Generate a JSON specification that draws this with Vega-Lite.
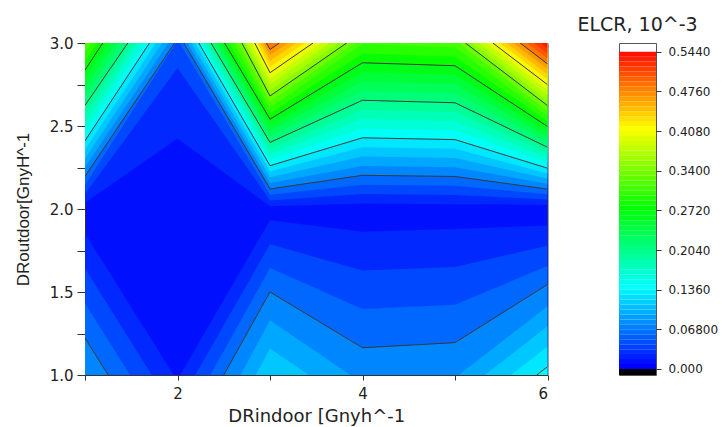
{
  "$schema": "https://vega.github.io/schema/vega-lite/v6.json",
  "background": "white",
  "padding": {"left": 14, "top": 15, "right": 0, "bottom": 0},
  "config": {"view": {"stroke": null}, "font": "DejaVu Sans"},
  "datasets": {
    "iso": [
      {"id": "u1", "k": 1, "e": 3, "x": [1, 2, 3, 4, 5, 6], "y": [2.038, 2.425, 2.016, 2.033, 2.029, 2.026]},
      {"id": "l1a", "k": 1, "e": 1, "x": [1, 1.958], "y": [1.852, 1]},
      {"id": "l1b", "k": 1, "e": 1, "x": [2.029, 3, 4, 5, 6], "y": [1, 1.932, 1.863, 1.879, 1.9]},
      {"id": "u2", "k": 2, "e": 3, "x": [1, 2, 3, 4, 5, 6], "y": [2.091, 2.85, 2.051, 2.09, 2.085, 2.057]},
      {"id": "l2a", "k": 2, "e": 1, "x": [1, 1.722], "y": [1.642, 1]},
      {"id": "l2b", "k": 2, "e": 1, "x": [2.192, 3, 4, 5, 6], "y": [1, 1.788, 1.63, 1.651, 1.779]},
      {"id": "u3a", "k": 3, "e": 3, "x": [1, 1.984], "y": [2.144, 3]},
      {"id": "u3b", "k": 3, "e": 3, "x": [2.024, 3, 4, 5, 6], "y": [3, 2.086, 2.146, 2.14, 2.089]},
      {"id": "l3a", "k": 3, "e": 1, "x": [1, 1.486], "y": [1.432, 1]},
      {"id": "l3b", "k": 3, "e": 1, "x": [2.356, 3, 4, 5, 6], "y": [1, 1.644, 1.397, 1.423, 1.657]},
      {"id": "u4a", "k": 4, "e": 3, "x": [1, 1.968], "y": [2.197, 3]},
      {"id": "u4b", "k": 4, "e": 3, "x": [2.068, 3, 4, 5, 6], "y": [3, 2.121, 2.203, 2.196, 2.12]},
      {"id": "l4a", "k": 4, "e": 1, "x": [1, 1.25], "y": [1.222, 1]},
      {"id": "l4b", "k": 4, "e": 1, "x": [2.5, 3, 4, 5, 6], "y": [1, 1.5, 1.164, 1.195, 1.545]},
      {"id": "u5a", "k": 5, "e": 3, "x": [1, 1.9], "y": [2.251, 3]},
      {"id": "u5b", "k": 5, "e": 3, "x": [2.109, 3, 4, 5, 6], "y": [3, 2.156, 2.259, 2.251, 2.152]},
      {"id": "l5a", "k": 5, "e": 1, "x": [2.683, 3, 3.868], "y": [1, 1.33, 1]},
      {"id": "l5b", "k": 5, "e": 1, "x": [5.041, 6], "y": [1, 1.414]},
      {"id": "u6a", "k": 6, "e": 3, "x": [1, 1.832], "y": [2.304, 3]},
      {"id": "u6b", "k": 6, "e": 3, "x": [2.149, 3, 4, 5, 6], "y": [3, 2.191, 2.316, 2.307, 2.183]},
      {"id": "l6a", "k": 6, "e": 1, "x": [2.846, 3, 3.421], "y": [1, 1.16, 1]},
      {"id": "l6b", "k": 6, "e": 1, "x": [5.322, 6], "y": [1, 1.293]},
      {"id": "u7a", "k": 7, "e": 3, "x": [1, 1.765], "y": [2.357, 3]},
      {"id": "u7b", "k": 7, "e": 3, "x": [2.19, 3, 4, 5, 6], "y": [3, 2.226, 2.372, 2.363, 2.214]},
      {"id": "l7b", "k": 7, "e": 1, "x": [5.603, 6], "y": [1, 1.171]},
      {"id": "u8a", "k": 8, "e": 3, "x": [1, 1.697], "y": [2.411, 3]},
      {"id": "u8b", "k": 8, "e": 3, "x": [2.23, 3, 4, 5, 6], "y": [3, 2.261, 2.429, 2.418, 2.246]},
      {"id": "l8b", "k": 8, "e": 1, "x": [5.884, 6], "y": [1, 1.05]},
      {"id": "u9a", "k": 9, "e": 3, "x": [1, 1.639], "y": [2.464, 3]},
      {"id": "u9b", "k": 9, "e": 3, "x": [2.262, 3, 4, 5, 6], "y": [3, 2.296, 2.485, 2.474, 2.277]},
      {"id": "u10a", "k": 10, "e": 3, "x": [1, 1.58], "y": [2.517, 3]},
      {"id": "u10b", "k": 10, "e": 3, "x": [2.294, 3, 4, 5, 6], "y": [3, 2.331, 2.542, 2.529, 2.309]},
      {"id": "u11a", "k": 11, "e": 3, "x": [1, 1.522], "y": [2.571, 3]},
      {"id": "u11b", "k": 11, "e": 3, "x": [2.328, 3, 4, 5, 6], "y": [3, 2.366, 2.598, 2.585, 2.34]},
      {"id": "u12a", "k": 12, "e": 3, "x": [1, 1.463], "y": [2.624, 3]},
      {"id": "u12b", "k": 12, "e": 3, "x": [2.362, 3, 4, 5, 6], "y": [3, 2.401, 2.655, 2.64, 2.372]},
      {"id": "u13a", "k": 13, "e": 3, "x": [1, 1.395], "y": [2.677, 3]},
      {"id": "u13b", "k": 13, "e": 3, "x": [2.398, 3, 4, 5, 6], "y": [3, 2.436, 2.711, 2.696, 2.403]},
      {"id": "u14a", "k": 14, "e": 3, "x": [1, 1.327], "y": [2.73, 3]},
      {"id": "u14b", "k": 14, "e": 3, "x": [2.435, 3, 4, 5, 6], "y": [3, 2.471, 2.768, 2.752, 2.434]},
      {"id": "u15a", "k": 15, "e": 3, "x": [1, 1.26], "y": [2.784, 3]},
      {"id": "u15b", "k": 15, "e": 3, "x": [2.472, 3, 4, 5, 6], "y": [3, 2.506, 2.824, 2.807, 2.466]},
      {"id": "u16a", "k": 16, "e": 3, "x": [1, 1.192], "y": [2.837, 3]},
      {"id": "u16b", "k": 16, "e": 3, "x": [2.509, 3, 4, 5, 6], "y": [3, 2.541, 2.881, 2.863, 2.497]},
      {"id": "u17a", "k": 17, "e": 3, "x": [1, 1.132], "y": [2.89, 3]},
      {"id": "u17b", "k": 17, "e": 3, "x": [2.556, 3, 4, 5, 6], "y": [3, 2.576, 2.937, 2.918, 2.529]},
      {"id": "u18a", "k": 18, "e": 3, "x": [1, 1.072], "y": [2.944, 3]},
      {"id": "u18b", "k": 18, "e": 3, "x": [2.603, 3, 4, 5, 6], "y": [3, 2.611, 2.994, 2.974, 2.56]},
      {"id": "u19b", "k": 19, "e": 3, "x": [2.649, 3, 3.92], "y": [3, 2.646, 3]},
      {"id": "u19c", "k": 19, "e": 3, "x": [5.039, 6], "y": [3, 2.591]},
      {"id": "u20b", "k": 20, "e": 3, "x": [2.696, 3, 3.829], "y": [3, 2.681, 3]},
      {"id": "u20c", "k": 20, "e": 3, "x": [5.113, 6], "y": [3, 2.623]},
      {"id": "u21b", "k": 21, "e": 3, "x": [2.729, 3, 3.738], "y": [3, 2.716, 3]},
      {"id": "u21c", "k": 21, "e": 3, "x": [5.187, 6], "y": [3, 2.654]},
      {"id": "u22b", "k": 22, "e": 3, "x": [2.762, 3, 3.647], "y": [3, 2.751, 3]},
      {"id": "u22c", "k": 22, "e": 3, "x": [5.261, 6], "y": [3, 2.686]},
      {"id": "u23b", "k": 23, "e": 3, "x": [2.797, 3, 3.556], "y": [3, 2.786, 3]},
      {"id": "u23c", "k": 23, "e": 3, "x": [5.335, 6], "y": [3, 2.717]},
      {"id": "u24b", "k": 24, "e": 3, "x": [2.835, 3, 3.465], "y": [3, 2.821, 3]},
      {"id": "u24c", "k": 24, "e": 3, "x": [5.409, 6], "y": [3, 2.749]},
      {"id": "u25b", "k": 25, "e": 3, "x": [2.866, 3, 3.374], "y": [3, 2.856, 3]},
      {"id": "u25c", "k": 25, "e": 3, "x": [5.483, 6], "y": [3, 2.78]},
      {"id": "u26b", "k": 26, "e": 3, "x": [2.897, 3, 3.283], "y": [3, 2.891, 3]},
      {"id": "u26c", "k": 26, "e": 3, "x": [5.557, 6], "y": [3, 2.811]},
      {"id": "u27b", "k": 27, "e": 3, "x": [2.928, 3, 3.193], "y": [3, 2.926, 3]},
      {"id": "u27c", "k": 27, "e": 3, "x": [5.63, 6], "y": [3, 2.843]},
      {"id": "u28b", "k": 28, "e": 3, "x": [2.962, 3, 3.102], "y": [3, 2.961, 3]},
      {"id": "u28c", "k": 28, "e": 3, "x": [5.704, 6], "y": [3, 2.874]},
      {"id": "u29b", "k": 29, "e": 3, "x": [2.995, 3, 3.011], "y": [3, 2.996, 3]},
      {"id": "u29c", "k": 29, "e": 3, "x": [5.778, 6], "y": [3, 2.906]},
      {"id": "u30c", "k": 30, "e": 3, "x": [5.852, 6], "y": [3, 2.937]},
      {"id": "u31c", "k": 31, "e": 3, "x": [5.926, 6], "y": [3, 2.969]}
    ],
    "bar": [
      {"a": [0, 0.0085, 0.017, 0.0255, 0.034, 0.0425, 0.051, 0.0595, 0.068, 0.0765, 0.085, 0.0935, 0.102, 0.1105, 0.119, 0.1275, 0.136, 0.1445, 0.153, 0.1615, 0.17, 0.1785, 0.187, 0.1955, 0.204, 0.2125, 0.221, 0.2295, 0.238, 0.2465, 0.255, 0.2635, 0.272, 0.2805, 0.289, 0.2975, 0.306, 0.3145, 0.323, 0.3315, 0.34, 0.3485, 0.357, 0.3655, 0.374, 0.3825, 0.391, 0.3995, 0.408, 0.4165, 0.425, 0.4335, 0.442, 0.4505, 0.459, 0.4675, 0.476, 0.4845, 0.493, 0.5015, 0.51, 0.5185, 0.527, 0.5355],
       "b": [0.0085, 0.017, 0.0255, 0.034, 0.0425, 0.051, 0.0595, 0.068, 0.0765, 0.085, 0.0935, 0.102, 0.1105, 0.119, 0.1275, 0.136, 0.1445, 0.153, 0.1615, 0.17, 0.1785, 0.187, 0.1955, 0.204, 0.2125, 0.221, 0.2295, 0.238, 0.2465, 0.255, 0.2635, 0.272, 0.2805, 0.289, 0.2975, 0.306, 0.3145, 0.323, 0.3315, 0.34, 0.3485, 0.357, 0.3655, 0.374, 0.3825, 0.391, 0.3995, 0.408, 0.4165, 0.425, 0.4335, 0.442, 0.4505, 0.459, 0.4675, 0.476, 0.4845, 0.493, 0.5015, 0.51, 0.5185, 0.527, 0.5355, 0.544]}
    ],
    "cap": [{"lo": -0.0103, "hi": 0}]
  },
  "spacing": 27,
  "resolve": {"scale": {"color": "independent"}},
  "hconcat": [
    {
      "width": 462.5,
      "height": 332,
      "view": {"fill": "#0010ff", "stroke": "#444", "strokeWidth": 1},
      "layer": [
        {
          "data": {"name": "iso"},
          "transform": [{"flatten": ["x", "y"]}],
          "mark": {"type": "area", "interpolate": "linear", "clip": true},
          "encoding": {
            "x": {"field": "x", "type": "quantitative",
              "scale": {"domain": [1, 6], "nice": false, "zero": false},
              "axis": {"values": [1, 2, 3, 4, 5, 6], "labelExpr": "datum.value % 2 == 0 ? format(datum.value, 'd') : ''",
                "title": "DRindoor [Gnyh^-1", "titleFont": "DejaVu Sans", "titleFontSize": 18, "titleFontWeight": "normal", "titleColor": "#222",
                "labelFont": "DejaVu Sans", "labelFontSize": 15, "labelColor": "#222", "tickSize": 5, "tickColor": "#333",
                "domainColor": "#333", "grid": false, "labelPadding": 6, "titlePadding": 6,
                "encode": {"ticks": {"update": {"y2": {"signal": "datum.value % 2 == 0 ? 5 : 3"}}}}}},
            "y": {"field": "y", "type": "quantitative", "stack": null,
              "scale": {"domain": [1, 3], "nice": false, "zero": false},
              "axis": {"values": [1, 1.25, 1.5, 1.75, 2, 2.25, 2.5, 2.75, 3], "labelExpr": "datum.value % 0.5 == 0 ? format(datum.value, '.1f') : ''",
                "title": "DRoutdoor[GnyH^-1", "titleFont": "Liberation Sans", "titleFontSize": 17, "titleFontWeight": "normal", "titleColor": "#222",
                "labelFont": "DejaVu Sans", "labelFontSize": 15, "labelColor": "#222", "tickSize": 8, "tickColor": "#333",
                "domainColor": "#333", "grid": false, "labelPadding": 4, "titlePadding": 16.5,
                "encode": {"ticks": {"update": {"x2": {"signal": "datum.value % 0.5 == 0 ? -8 : -4"}}}}}},
            "y2": {"field": "e"},
            "color": {"field": "k", "type": "quantitative", "legend": null,
              "scale": {"domain": [-0.25, 7.75, 15.75, 23.75, 31.75], "range": ["#0000ff", "#00ffff", "#00ff00", "#ffff00", "#ff0000"], "interpolate": "rgb"}},
            "detail": {"field": "id"}
          }
        },
        {
          "data": {"name": "iso"},
          "transform": [{"filter": "datum.k % 4 == 0"}, {"flatten": ["x", "y"]}],
          "mark": {"type": "line", "color": "#383838", "strokeWidth": 1, "clip": true},
          "encoding": {
            "x": {"field": "x", "type": "quantitative"},
            "y": {"field": "y", "type": "quantitative"},
            "detail": {"field": "id"}
          }
        }
      ]
    },
    {
      "width": 37,
      "height": 332,
      "title": {"text": "ELCR, 10^-3", "font": "DejaVu Sans", "fontSize": 19, "fontWeight": "normal", "color": "#222", "anchor": "middle", "offset": -11, "baseline": "bottom"},
      "view": {"stroke": "#555", "strokeWidth": 1},
      "layer": [
        {
          "data": {"name": "bar"},
          "transform": [{"flatten": ["a", "b"]}],
          "mark": {"type": "rect"},
          "encoding": {
            "y": {"field": "a", "type": "quantitative",
              "scale": {"domain": [-0.0103, 0.5589], "nice": false, "zero": false},
              "axis": {"orient": "right", "values": [0, 0.068, 0.136, 0.204, 0.272, 0.34, 0.408, 0.476, 0.544],
                "labelExpr": "datum.value == 0 ? '0.000' : (datum.value < 0.1 ? '0.06800' : format(datum.value, '.4f'))",
                "title": null, "labelFont": "DejaVu Sans", "labelFontSize": 12, "labelColor": "#222", "tickSize": 5, "tickColor": "#333",
                "domain": false, "grid": false, "labelPadding": 7}},
            "y2": {"field": "b"},
            "color": {"field": "a", "type": "quantitative", "legend": null,
              "scale": {"domain": [0, 0.136, 0.272, 0.408, 0.544], "range": ["#0000ff", "#00ffff", "#00ff00", "#ffff00", "#ff0000"], "interpolate": "rgb"}}
          }
        },
        {
          "data": {"name": "cap"},
          "mark": {"type": "rect", "color": "#000000"},
          "encoding": {
            "y": {"field": "lo", "type": "quantitative"},
            "y2": {"field": "hi"}
          }
        }
      ]
    }
  ]
}
